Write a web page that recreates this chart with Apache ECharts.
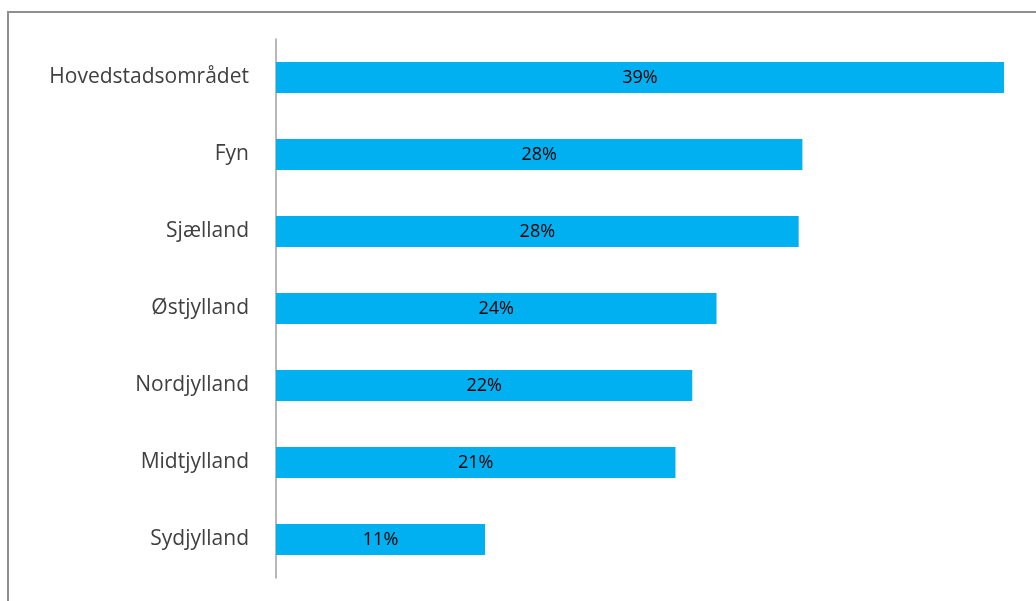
<!DOCTYPE html>
<html>
<head>
<meta charset="utf-8">
<script src="https://cdn.jsdelivr.net/npm/echarts@6/dist/echarts.min.js"></script>
<style>
  html, body { margin: 0; padding: 0; background: #fff; }
  #chart { width: 1036px; height: 601px; }
</style>
</head>
<body>
<div id="chart"></div>
<script>
const FONT = '"Open Sans", "Noto Sans", sans-serif'

const regions = ['Hovedstadsområdet', 'Fyn', 'Sjælland', 'Østjylland', 'Nordjylland', 'Midtjylland', 'Sydjylland']
const shares = [39, 28.2, 28.0, 23.6, 22.3, 21.4, 11.2]

const chart = echarts.init(document.getElementById('chart'))

chart.setOption({
  backgroundColor: '#fff',
  animation: false,
  graphic: [
    {
      type: 'rect',
      shape: { x: 8, y: 12, width: 2000, height: 2000 },
      style: { fill: 'none', stroke: '#8f8f8f', lineWidth: 2 },
    },
  ],
  grid: { left: 276, right: 32, top: 39, bottom: 23 },
  xAxis: {
    type: 'value',
    min: 0,
    max: 39,
    show: false,
  },
  yAxis: {
    type: 'category',
    inverse: true,
    data: regions,
    axisLine: { show: true, lineStyle: { color: '#a0a0a0', width: 1.5 } },
    axisTick: { show: false },
    axisLabel: { color: '#404040', fontSize: 21, fontFamily: FONT, margin: 27 },
  },
  series: [
    {
      type: 'bar',
      data: shares,
      barWidth: 31,
      itemStyle: { color: '#00b0f0' },
      label: {
        show: true,
        position: 'inside',
        color: '#000',
        fontSize: 18,
        fontFamily: FONT,
        formatter: (p) => Math.round(p.value) + '%',
      },
    },
  ],
})
</script>
</body>
</html>
